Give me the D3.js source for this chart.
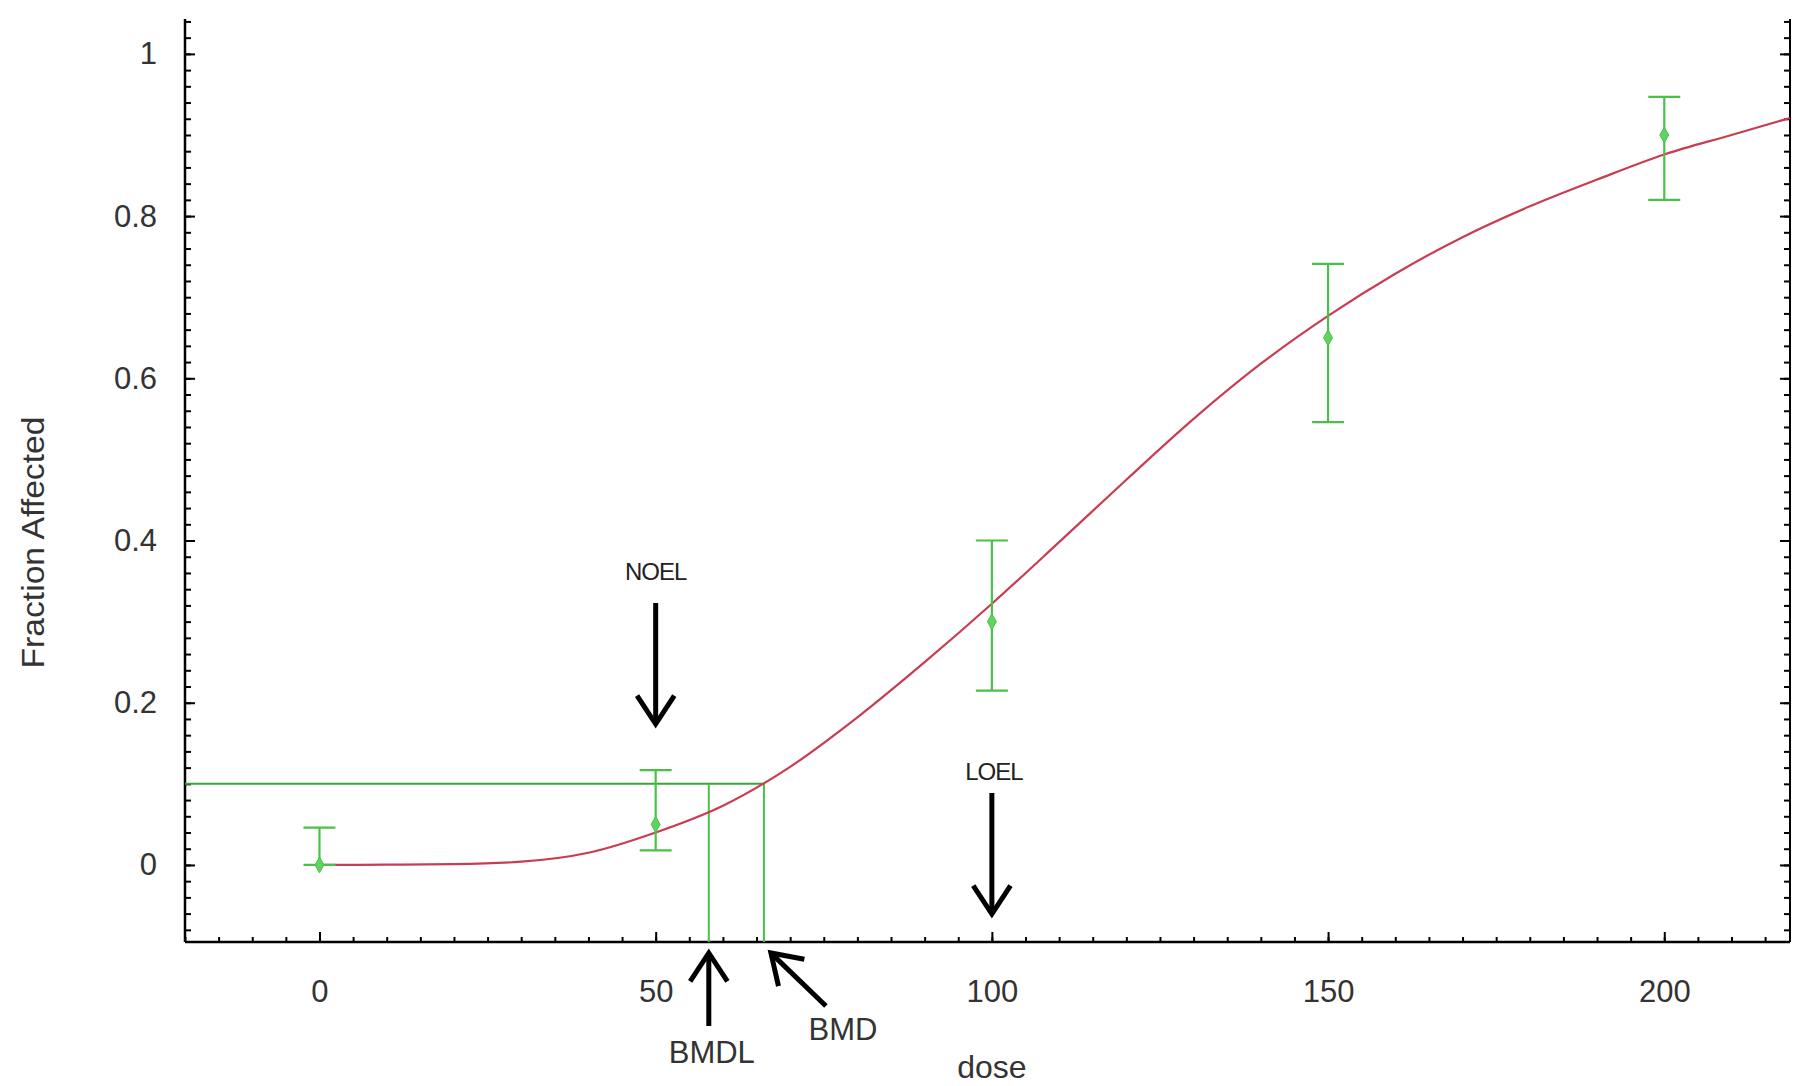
<!DOCTYPE html>
<html>
<head>
<meta charset="utf-8">
<script src="https://cdn.jsdelivr.net/npm/d3@7"></script>
<style>
  html, body { margin: 0; padding: 0; background: #ffffff; }
  svg { display: block; }
  text { font-family: "Liberation Sans", Arial, sans-serif; }
</style>
</head>
<body>
<svg id="chart" width="1794" height="1086"></svg>
<script>
// ---------------- data ----------------
const doses = [0, 50, 100, 150, 200];
const observed = [0.0, 0.05, 0.30, 0.65, 0.90];
const lowerCI = [0.0, 0.018, 0.215, 0.546, 0.82];
const upperCI = [0.046, 0.117, 0.40, 0.741, 0.947];

const curveDose = [0, 10, 20, 30, 40, 50, 60, 70, 80, 90, 100, 110, 120, 130, 140, 150, 160, 170, 180, 190, 200, 210, 218.7];
const curveFrac = [0, 0.0003, 0.001, 0.004, 0.015, 0.040, 0.073, 0.121, 0.182, 0.250, 0.322, 0.398, 0.475, 0.550, 0.618, 0.677, 0.729, 0.774, 0.812, 0.845, 0.876, 0.900, 0.921];

const bmrLevel = 0.1;
const bmd = 66.1;
const bmdl = 57.9;
const noel = 50;
const loel = 100;

const xTickValues = [0, 50, 100, 150, 200];
const xTickLabels = ["0", "50", "100", "150", "200"];
const yTickValues = [0, 0.2, 0.4, 0.6, 0.8, 1];
const yTickLabels = ["0", "0.2", "0.4", "0.6", "0.8", "1"];

// ---------------- layout ----------------
const svg = d3.select("#chart");
const pLeft = 185, pRight = 1790, pTop = 19, pBottom = 942;

const x = d3.scaleLinear().domain([-20, 218.7]).range([pLeft, pRight]);
const y = d3.scaleLinear().domain([-0.095, 1.043]).range([pBottom, pTop]);

const green = "#49c149";
const greenDark = "#3aa53a";
const red = "#c93d52";
const labelColor = "#333333";

// ---------------- axes ----------------
const xMinor = d3.range(-20, 218.7, 5);
const yMinor = d3.range(-0.08, 1.0401, 0.02);

function styleAxis(g) {
  g.selectAll(".domain").remove();
  g.selectAll(".tick line").attr("stroke", "#000").attr("stroke-width", 2);
}

// bottom axis minor ticks
svg.append("g").attr("transform", `translate(0,${pBottom})`)
  .call(d3.axisBottom(x).tickValues(xMinor).tickSize(-5).tickFormat(""))
  .call(styleAxis);
// bottom axis major ticks with labels
const gx = svg.append("g").attr("transform", `translate(0,${pBottom})`)
  .call(d3.axisBottom(x).tickValues(xTickValues).tickSize(-10).tickPadding(38)
        .tickFormat((d, i) => xTickLabels[i]))
  .call(styleAxis);
gx.selectAll("text").attr("font-size", 31).attr("fill", labelColor)
  .attr("font-family", "Liberation Sans, Arial, sans-serif");

// left axis
svg.append("g").attr("transform", `translate(${pLeft},0)`)
  .call(d3.axisLeft(y).tickValues(yMinor).tickSize(-6).tickFormat(""))
  .call(styleAxis);
const gy = svg.append("g").attr("transform", `translate(${pLeft},0)`)
  .call(d3.axisLeft(y).tickValues(yTickValues).tickSize(-10).tickPadding(28)
        .tickFormat((d, i) => yTickLabels[i]))
  .call(styleAxis);
gy.selectAll("text").attr("font-size", 31).attr("fill", labelColor)
  .attr("font-family", "Liberation Sans, Arial, sans-serif");

// right axis (ticks only)
svg.append("g").attr("transform", `translate(${pRight},0)`)
  .call(d3.axisRight(y).tickValues(yMinor).tickSize(-6).tickFormat(""))
  .call(styleAxis);
svg.append("g").attr("transform", `translate(${pRight},0)`)
  .call(d3.axisRight(y).tickValues(yTickValues).tickSize(-10).tickFormat(""))
  .call(styleAxis);

// axis lines
svg.append("line").attr("x1", pLeft).attr("x2", pLeft).attr("y1", pTop).attr("y2", pBottom)
  .attr("stroke", "#000").attr("stroke-width", 2.5);
svg.append("line").attr("x1", pRight).attr("x2", pRight).attr("y1", pTop).attr("y2", pBottom)
  .attr("stroke", "#000").attr("stroke-width", 2);
svg.append("line").attr("x1", pLeft).attr("x2", pRight).attr("y1", pBottom).attr("y2", pBottom)
  .attr("stroke", "#000").attr("stroke-width", 2.5);

// axis titles
svg.append("text")
  .attr("transform", `translate(44,${(y(0.2) + y(0.6)) / 2 + 2}) rotate(-90)`)
  .attr("text-anchor", "middle").attr("font-size", 32).attr("fill", labelColor)
  .attr("textLength", 252).attr("lengthAdjust", "spacingAndGlyphs")
  .text("Fraction Affected");
svg.append("text").attr("x", x(loel)).attr("y", 1078)
  .attr("text-anchor", "middle").attr("font-size", 32).attr("fill", labelColor)
  .text("dose");

// ---------------- BMD reference lines ----------------
svg.append("line").attr("x1", pLeft).attr("x2", x(bmd))
  .attr("y1", y(bmrLevel)).attr("y2", y(bmrLevel))
  .attr("stroke", greenDark).attr("stroke-width", 2);
[bmdl, bmd].forEach(d => {
  svg.append("line").attr("x1", x(d)).attr("x2", x(d))
    .attr("y1", y(bmrLevel)).attr("y2", pBottom)
    .attr("stroke", green).attr("stroke-width", 2);
});

// ---------------- fitted curve ----------------
const curve = curveDose.map((d, i) => [d, curveFrac[i]]);
svg.append("path").datum(curve)
  .attr("d", d3.line().x(d => x(d[0])).y(d => y(d[1])).curve(d3.curveMonotoneX))
  .attr("fill", "none").attr("stroke", red).attr("stroke-width", 2.2);

// ---------------- observed data with CI ----------------
const pts = doses.map((d, i) => ({ d, v: observed[i], lo: lowerCI[i], hi: upperCI[i] }));
const eb = svg.append("g").attr("stroke", green).attr("stroke-width", 2.2).attr("fill", "none");
pts.forEach(p => {
  eb.append("line").attr("x1", x(p.d)).attr("x2", x(p.d)).attr("y1", y(p.lo)).attr("y2", y(p.hi));
  eb.append("line").attr("x1", x(p.d) - 16).attr("x2", x(p.d) + 16).attr("y1", y(p.hi)).attr("y2", y(p.hi));
  eb.append("line").attr("x1", x(p.d) - 16).attr("x2", x(p.d) + 16).attr("y1", y(p.lo)).attr("y2", y(p.lo));
});
svg.append("g").selectAll("path").data(pts).join("path")
  .attr("d", d3.symbol().type(d3.symbolDiamond).size(70))
  .attr("transform", p => `translate(${x(p.d)},${y(p.v)})`)
  .attr("fill", "#5fd35f").attr("stroke", green).attr("stroke-width", 1);

// ---------------- annotations ----------------
function arrow(tipX, tipY, tailX, tailY) {
  const dx = tailX - tipX, dy = tailY - tipY;
  const L = Math.hypot(dx, dy), ux = dx / L, uy = dy / L;
  const a = 0.58, h = 34;
  const c = Math.cos(a), s = Math.sin(a);
  const l1 = [tipX + h * (ux * c - uy * s), tipY + h * (ux * s + uy * c)];
  const l2 = [tipX + h * (ux * c + uy * s), tipY + h * (-ux * s + uy * c)];
  const g = svg.append("g").attr("stroke", "#000").attr("stroke-width", 5).attr("fill", "none");
  g.append("line").attr("x1", tailX).attr("y1", tailY).attr("x2", tipX + ux * 3).attr("y2", tipY + uy * 3);
  g.append("path").attr("d", `M${l1[0]},${l1[1]}L${tipX},${tipY}L${l2[0]},${l2[1]}`)
    .attr("stroke-linejoin", "miter");
}

// NOEL
svg.append("text").attr("x", x(noel)).attr("y", 580).attr("text-anchor", "middle")
  .attr("font-size", 24).attr("fill", "#222").attr("letter-spacing", -1).text("NOEL");
arrow(x(noel), 724, x(noel), 603);
// LOEL
svg.append("text").attr("x", x(loel) + 2).attr("y", 780).attr("text-anchor", "middle")
  .attr("font-size", 24).attr("fill", "#222").attr("letter-spacing", -1).text("LOEL");
arrow(x(loel), 914, x(loel), 793);
// BMDL
arrow(x(bmdl), 953, x(bmdl), 1026);
svg.append("text").attr("x", x(bmdl) + 3).attr("y", 1063).attr("text-anchor", "middle")
  .attr("font-size", 31).attr("fill", labelColor).text("BMDL");
// BMD
arrow(x(bmd) + 7, 953, x(bmd) + 62, 1006);
svg.append("text").attr("x", x(bmd) + 79).attr("y", 1040).attr("text-anchor", "middle")
  .attr("font-size", 31).attr("fill", labelColor).text("BMD");
</script>
</body>
</html>
